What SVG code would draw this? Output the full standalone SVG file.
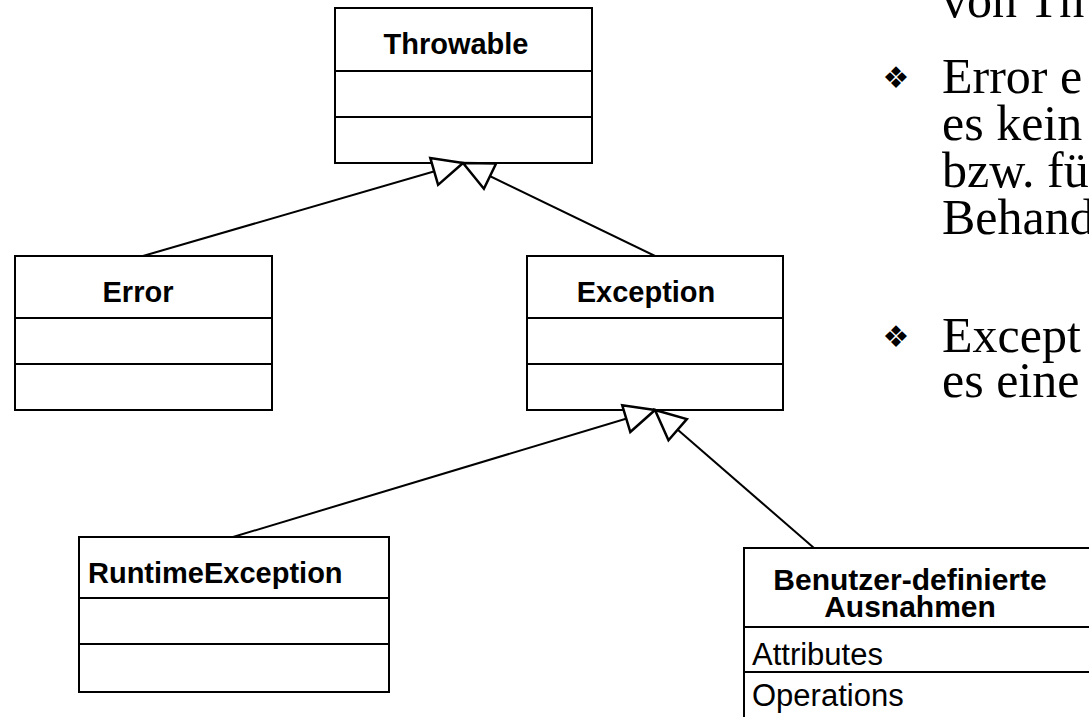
<svg xmlns="http://www.w3.org/2000/svg" width="1089" height="717" viewBox="0 0 1089 717">
<style>
.box{fill:#fff;stroke:#000;stroke-width:2}
.div{stroke:#000;stroke-width:2}
.t{font-family:"Liberation Sans",Arial,sans-serif;font-weight:bold;font-size:29px;fill:#000}
.r{font-family:"Liberation Sans",Arial,sans-serif;font-size:31px;fill:#000}
.s{font-family:"Liberation Serif","Times New Roman",serif;font-size:50px;fill:#000}
.b{font-family:"DejaVu Sans",sans-serif;font-size:30px;fill:#000}
.c{stroke:#000;stroke-width:2;fill:none;marker-end:url(#gen)}
</style>
<defs>
<marker id="gen" markerUnits="userSpaceOnUse" markerWidth="40" markerHeight="40" viewBox="-35 -20 40 40" refX="0" refY="0" orient="auto" overflow="visible">
<path d="M0,0 L-30,-14 L-30,14 Z" fill="#fff" stroke="#000" stroke-width="2.5"/>
</marker>
</defs>
<rect width="1089" height="717" fill="#fff"/>

<g id="throwable">
<rect class="box" x="335" y="8" width="257" height="155"/>
<line class="div" x1="335" y1="71" x2="592" y2="71"/>
<line class="div" x1="335" y1="117" x2="592" y2="117"/>
<text class="t" x="456" y="54" text-anchor="middle">Throwable</text>
</g>

<g id="error">
<rect class="box" x="15" y="256" width="257" height="154"/>
<line class="div" x1="15" y1="318" x2="272" y2="318"/>
<line class="div" x1="15" y1="364" x2="272" y2="364"/>
<text class="t" x="138" y="302" text-anchor="middle">Error</text>
</g>

<g id="exception">
<rect class="box" x="527" y="256" width="256" height="154"/>
<line class="div" x1="527" y1="318" x2="783" y2="318"/>
<line class="div" x1="527" y1="364" x2="783" y2="364"/>
<text class="t" x="646" y="302" text-anchor="middle">Exception</text>
</g>

<g id="runtimeexception">
<rect class="box" x="79" y="537" width="310" height="155"/>
<line class="div" x1="79" y1="598" x2="389" y2="598"/>
<line class="div" x1="79" y1="644" x2="389" y2="644"/>
<text class="t" x="88" y="583">RuntimeException</text>
</g>

<g id="benutzer">
<rect class="box" x="744" y="548" width="360" height="190"/>
<line class="div" x1="744" y1="627" x2="1104" y2="627"/>
<line class="div" x1="744" y1="672" x2="1104" y2="672"/>
<text class="t" x="910" y="590" text-anchor="middle" style="font-size:30px">Benutzer-definierte</text>
<text class="t" x="910" y="617" text-anchor="middle" style="font-size:30px">Ausnahmen</text>
<text class="r" x="752" y="665">Attributes</text>
<text class="r" x="752" y="706">Operations</text>
</g>

<g id="connectors">
<line class="c" x1="143" y1="256" x2="463" y2="163"/>
<line class="c" x1="655" y1="256" x2="463" y2="163"/>
<line class="c" x1="233" y1="537" x2="655" y2="410"/>
<line class="c" x1="814" y1="548" x2="655" y2="410"/>
</g>

<g id="bullets">
<text class="s" x="942" y="17">von Th</text>
<text class="b" x="896" y="88" text-anchor="middle">❖</text>
<text class="s" x="942" y="93">Error e</text>
<text class="s" x="942" y="140">es kein</text>
<text class="s" x="942" y="187">bzw. fü</text>
<text class="s" x="942" y="234">Behand</text>
<text class="b" x="896" y="347" text-anchor="middle">❖</text>
<text class="s" x="942" y="352">Except</text>
<text class="s" x="942" y="397">es eine</text>
</g>
</svg>
